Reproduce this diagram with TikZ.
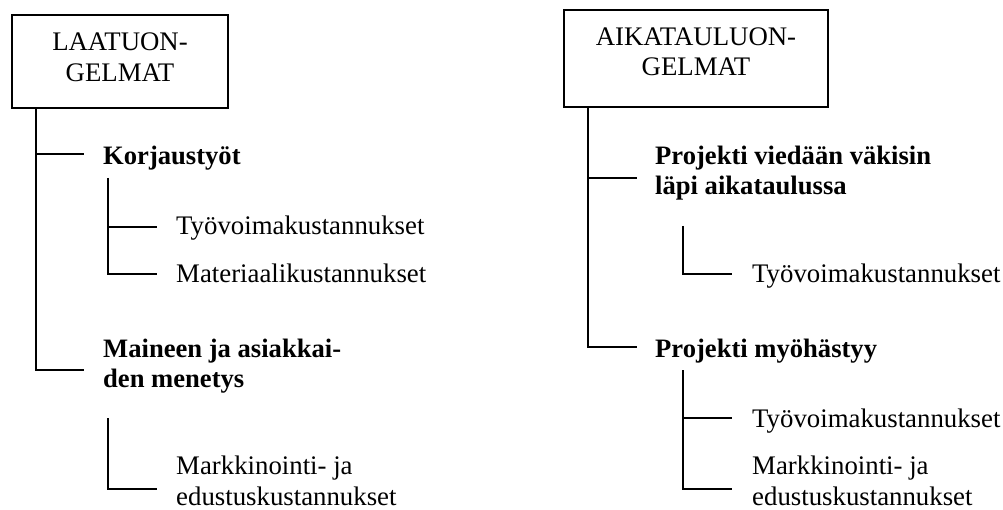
\documentclass[tikz,border=0pt]{standalone}
\usepackage{fontspec}
\setmainfont{Liberation Serif}
\begin{document}
\begin{tikzpicture}[x=1pt,y=-1pt,
  every node/.style={font=\fontsize{26.8}{31}\selectfont, inner sep=0pt},
  label/.style={anchor=base west},
  head/.style={label, font=\fontsize{26.6}{30}\selectfont\bfseries},
  topbox/.style={draw, line width=1.4pt, align=center},
  tree/.style={line width=1.5pt}]
\useasboundingbox (0,0) rectangle (1003,510);

% ---- left tree: quality problems ----
\node[topbox, minimum width=216pt, minimum height=93pt] (boxL) at (120,61.5)
  {LAATUON-\\GELMAT\rule[-8pt]{0pt}{0pt}};

\node[head] (korj) at (103,165) {Korjaustyöt};
\node[label] (tyoL) at (176,235) {Työvoimakustannukset};
\node[label] (matL) at (176,283) {Materiaalikustannukset};
\node[head] (main) at (103,357) {\begin{tabular}[t]{@{}l@{}}Maineen ja asiakkai-\\den menetys\end{tabular}};
\node[label] (markL) at (176,474) {\begin{tabular}[t]{@{}l@{}}Markkinointi- ja\\edustuskustannukset\end{tabular}};

\coordinate (trL) at (36,370);
\coordinate (kE) at (84,154);
\coordinate (mE) at (84,370);
\draw[tree] (boxL.south -| trL) -- (trL) -- (mE);
\draw[tree] (trL |- kE) -- (kE);

\coordinate (s1top) at (108,178);
\coordinate (s1bot) at (108,274);
\coordinate (tyoLE) at (157,227);
\coordinate (matLE) at (157,274);
\draw[tree] (s1top) -- (s1bot) -- (matLE);
\draw[tree] (s1top |- tyoLE) -- (tyoLE);

\coordinate (s2top) at (108,418);
\coordinate (s2bot) at (108,489);
\coordinate (markLE) at (157,489);
\draw[tree] (s2top) -- (s2bot) -- (markLE);

% ---- right tree: schedule problems ----
\node[topbox, minimum width=264pt, minimum height=97pt, font=\fontsize{26.8}{30}\selectfont] (boxR) at (696,58.5)
  {AIKATAULUON-\\GELMAT\rule[-14pt]{0pt}{0pt}};

\node[head] (vied) at (655,165) {\begin{tabular}[t]{@{}l@{}}Projekti viedään väkisin\\läpi aikataulussa\end{tabular}};
\node[label] (tyoR1) at (752,283) {Työvoimakustannukset};
\node[head] (myoh) at (655,357) {Projekti myöhästyy};
\node[label] (tyoR2) at (752,427) {Työvoimakustannukset};
\node[label] (markR) at (752,474) {\begin{tabular}[t]{@{}l@{}}Markkinointi- ja\\edustuskustannukset\end{tabular}};

\coordinate (trR) at (588,347);
\coordinate (vE) at (637,178);
\coordinate (myE) at (637,347);
\draw[tree] (boxR.south -| trR) -- (trR) -- (myE);
\draw[tree] (trR |- vE) -- (vE);

\coordinate (r1top) at (683,226);
\coordinate (r1bot) at (683,274);
\coordinate (tyoR1E) at (732,274);
\draw[tree] (r1top) -- (r1bot) -- (tyoR1E);

\coordinate (r2top) at (683,370);
\coordinate (r2bot) at (683,489);
\coordinate (tyoR2E) at (732,418);
\coordinate (markRE) at (732,489);
\draw[tree] (r2top) -- (r2bot) -- (markRE);
\draw[tree] (r2top |- tyoR2E) -- (tyoR2E);
\end{tikzpicture}
\end{document}
